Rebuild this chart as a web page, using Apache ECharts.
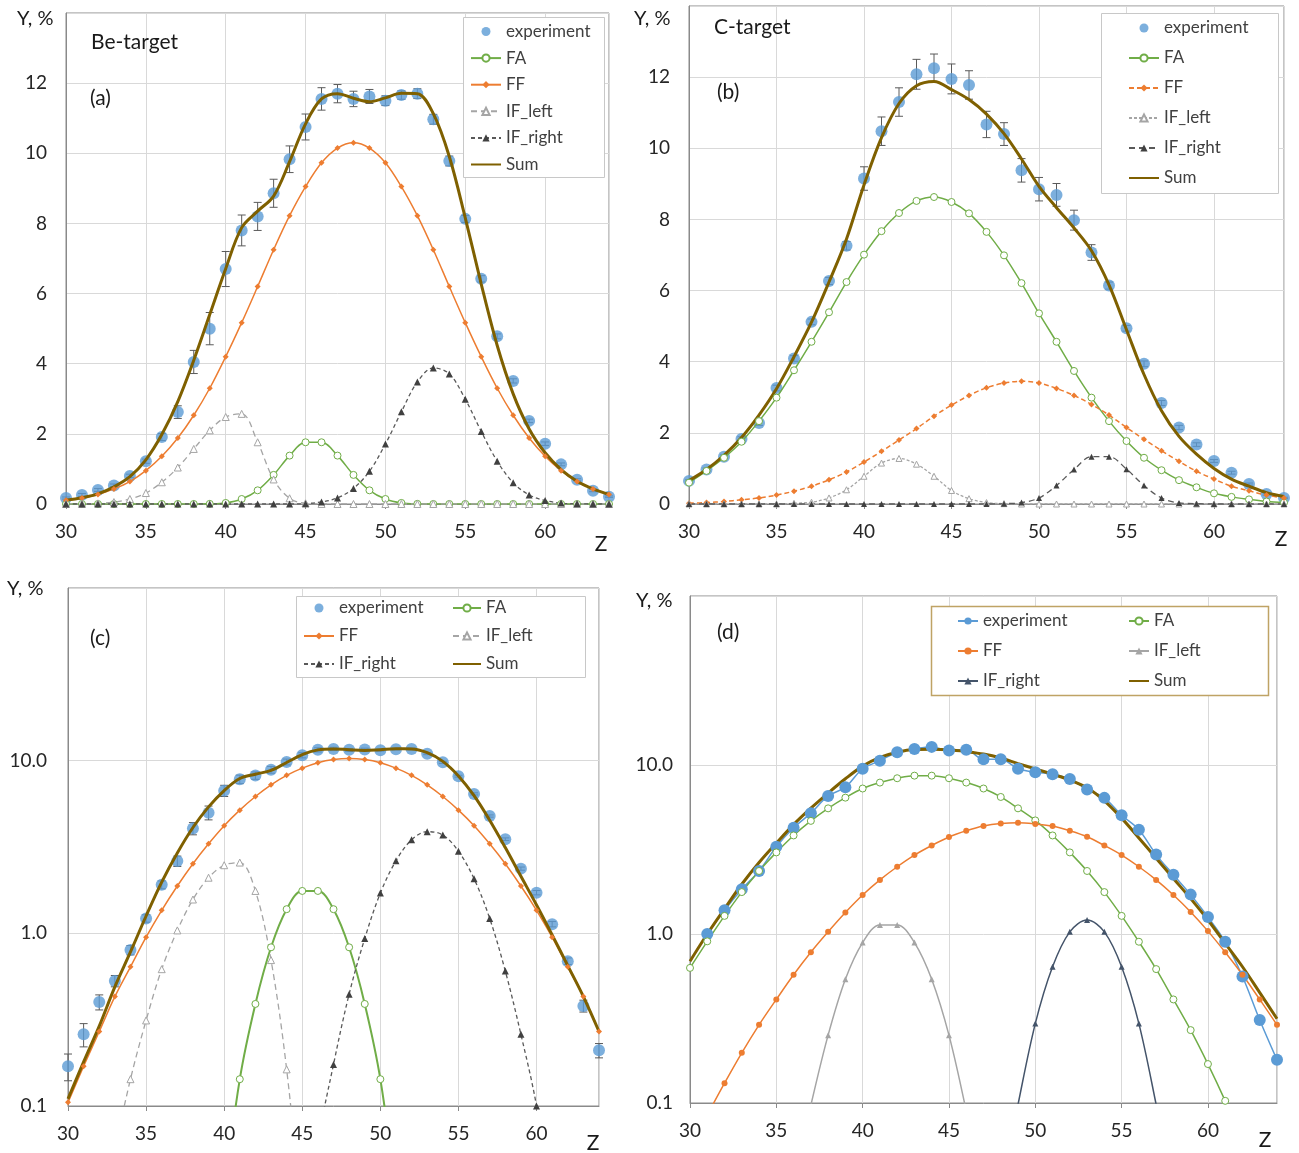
<!DOCTYPE html>
<html>
<head>
<meta charset="utf-8">
<script src="https://cdn.jsdelivr.net/npm/echarts@6/dist/echarts.min.js"></script>
<style>
  html, body { margin: 0; padding: 0; background: #fff; }
  #chart { width: 1299px; height: 1153px; }
</style>
</head>
<body>
<div id="chart"></div>
<script>
// Charge number Z of the fragments
const Z = [30, 31, 32, 33, 34, 35, 36, 37, 38, 39, 40, 41, 42, 43, 44, 45, 46, 47,
           48, 49, 50, 51, 52, 53, 54, 55, 56, 57, 58, 59, 60, 61, 62, 63, 64];

// ---- Be-target yields, % (panels a and c) ----
const beExp = [0.17, 0.26, 0.40, 0.53, 0.80, 1.22, 1.91, 2.62, 4.05, 5.0, 6.7, 7.8, 8.2, 8.86, 9.83, 10.75, 11.55, 11.7,
               11.55, 11.62, 11.5, 11.66, 11.7, 10.97, 9.78, 8.13, 6.42, 4.78, 3.51, 2.37, 1.72, 1.13, 0.69, 0.38, 0.21];
const beErr = [0.03, 0.04, 0.04, 0.04, 0.05, 0.06, 0.1, 0.18, 0.33, 0.46, 0.5, 0.44, 0.4, 0.4, 0.38, 0.37, 0.32, 0.26,
               0.22, 0.2, 0.14, 0.12, 0.14, 0.14, 0.14, 0.1, 0.09, 0.07, 0.06, 0.05, 0.05, 0.04, 0.03, 0.03, 0.02];
const beFA  = [0.0001, 0.0001, 0.0001, 0.0001, 0.0001, 0.0001, 0.0001, 0.0001, 0.0003, 0.004, 0.03, 0.143, 0.39, 0.83, 1.38, 1.76, 1.76, 1.38,
               0.83, 0.39, 0.143, 0.03, 0.004, 0.0003, 0.0001, 0.0001, 0.0001, 0.0001, 0.0001, 0.0001, 0.0001, 0.0001, 0.0001, 0.0001, 0.0001];
const beFF  = [0.105, 0.17, 0.27, 0.43, 0.64, 0.95, 1.36, 1.88, 2.53, 3.3, 4.2, 5.17, 6.2, 7.25, 8.22, 9.05, 9.73, 10.15,
               10.3, 10.15, 9.73, 9.05, 8.22, 7.25, 6.2, 5.17, 4.2, 3.3, 2.53, 1.88, 1.36, 0.95, 0.64, 0.43, 0.27];
const beIFL = [0.001, 0.005, 0.018, 0.055, 0.143, 0.313, 0.62, 1.04, 1.57, 2.1, 2.48, 2.57, 1.76, 0.70, 0.163, 0.02, 0.002, 0.0001,
               0.0001, 0.0001, 0.0001, 0.0001, 0.0001, 0.0001, 0.0001, 0.0001, 0.0001, 0.0001, 0.0001, 0.0001, 0.0001, 0.0001, 0.0001, 0.0001, 0.0001];
const beIFR = [0.0001, 0.0001, 0.0001, 0.0001, 0.0001, 0.0001, 0.0001, 0.0001, 0.0001, 0.0001, 0.0001, 0.0001, 0.0001, 0.0001, 0.0001, 0.01, 0.06, 0.174,
               0.444, 0.933, 1.71, 2.63, 3.48, 3.88, 3.71, 2.99, 2.07, 1.22, 0.605, 0.26, 0.1, 0.025, 0.005, 0.001, 0.0001];
const beSum = [0.11, 0.18, 0.29, 0.49, 0.78, 1.26, 1.98, 2.92, 4.1, 5.4, 6.71, 7.88, 8.35, 8.78, 9.76, 10.84, 11.55, 11.7,
               11.57, 11.47, 11.58, 11.71, 11.7, 11.13, 9.91, 8.16, 6.27, 4.52, 3.14, 2.14, 1.46, 0.98, 0.65, 0.43, 0.27];

// ---- C-target yields, % (panel b) ----
const cExp = [0.65, 0.97, 1.33, 1.83, 2.28, 3.26, 4.09, 5.12, 6.27, 7.26, 9.15, 10.48, 11.3, 12.08, 12.25, 11.95, 11.78, 10.67,
              10.4, 9.38, 8.85, 8.69, 7.98, 7.07, 6.14, 4.94, 3.94, 2.84, 2.15, 1.67, 1.21, 0.88, 0.56, 0.28, 0.17];
const cErr = [0.03, 0.04, 0.05, 0.06, 0.07, 0.08, 0.08, 0.08, 0.1, 0.12, 0.33, 0.4, 0.4, 0.42, 0.4, 0.42, 0.4, 0.37,
              0.32, 0.33, 0.33, 0.32, 0.28, 0.22, 0.1, 0.08, 0.08, 0.07, 0.06, 0.05, 0.04, 0.04, 0.03, 0.03, 0.02];
const cFA  = [0.6, 0.93, 1.3, 1.75, 2.33, 2.99, 3.76, 4.56, 5.39, 6.24, 7.01, 7.67, 8.18, 8.52, 8.63, 8.49, 8.17, 7.65,
              6.99, 6.21, 5.36, 4.56, 3.74, 2.99, 2.33, 1.77, 1.3, 0.95, 0.67, 0.47, 0.3, 0.2, 0.13, 0.07, 0.04];
const cFF  = [0.02, 0.04, 0.07, 0.12, 0.17, 0.25, 0.36, 0.5, 0.68, 0.9, 1.18, 1.48, 1.8, 2.12, 2.47, 2.78, 3.05, 3.27,
              3.4, 3.45, 3.4, 3.25, 3.05, 2.8, 2.5, 2.15, 1.82, 1.5, 1.2, 0.92, 0.7, 0.5, 0.37, 0.25, 0.17];
const cIFL = [0, 0, 0, 0, 0, 0, 0.02, 0.05, 0.17, 0.4, 0.78, 1.15, 1.28, 1.12, 0.78, 0.38, 0.15, 0.04,
              0.01, 0, 0, 0, 0, 0, 0, 0, 0, 0, 0, 0, 0, 0, 0, 0, 0];
const cIFR = [0, 0, 0, 0, 0, 0, 0, 0, 0, 0, 0, 0, 0, 0, 0, 0, 0, 0,
              0.01, 0.04, 0.17, 0.52, 0.97, 1.33, 1.33, 0.98, 0.52, 0.17, 0.03, 0.01, 0, 0, 0, 0, 0];
const cSum = [0.66, 0.97, 1.37, 1.87, 2.5, 3.24, 4.14, 5.11, 6.24, 7.45, 8.97, 10.3, 11.26, 11.76, 11.88, 11.65, 11.37, 10.96,
              10.41, 9.7, 8.93, 8.33, 7.76, 7.12, 6.16, 4.9, 3.64, 2.62, 1.9, 1.4, 1.0, 0.7, 0.5, 0.32, 0.21];

// ---- C-target yields, % (panel d, log scale) ----
const dExp = [null, 1.0, 1.38, 1.84, 2.36, 3.28, 4.25, 5.19, 6.56, 7.39, 9.5, 10.6, 11.9, 12.45, 12.8, 12.2, 12.3, 10.8,
              10.8, 9.5, 9.06, 8.83, 8.27, 7.16, 6.39, 5.04, 4.14, 2.95, 2.24, 1.71, 1.26, 0.9, 0.56, 0.31, 0.18];
const dFA  = [0.63, 0.905, 1.28, 1.77, 2.36, 3.04, 3.83, 4.67, 5.54, 6.41, 7.26, 7.87, 8.35, 8.65, 8.65, 8.35, 7.87, 7.26,
              6.47, 5.54, 4.7, 3.83, 3.04, 2.36, 1.77, 1.28, 0.9, 0.62, 0.41, 0.27, 0.17, 0.103, 0.06, 0.035, 0.02];
const dFF  = [0.055, 0.085, 0.131, 0.198, 0.29, 0.41, 0.574, 0.78, 1.03, 1.34, 1.7, 2.09, 2.5, 2.93, 3.34, 3.75, 4.08, 4.35,
              4.5, 4.55, 4.48, 4.35, 4.08, 3.76, 3.34, 2.93, 2.5, 2.09, 1.7, 1.35, 1.04, 0.78, 0.574, 0.41, 0.29];
const dIFL = [0.0001, 0.0002, 0.0005, 0.001, 0.004, 0.012, 0.035, 0.097, 0.252, 0.54, 0.89, 1.13, 1.13, 0.89, 0.54, 0.252, 0.09, 0.03,
              0.008, 0.002, 0.0005, 0.0005, 0.0005, 0.0005, 0.0005, 0.0005, 0.0005, 0.0005, 0.0005, 0.0005, 0.0005, 0.0005, 0.0005, 0.0005, 0.0005];
const dIFR = [0.0005, 0.0005, 0.0005, 0.0005, 0.0005, 0.0005, 0.0005, 0.0005, 0.0005, 0.0005, 0.0005, 0.0005, 0.0005, 0.0005, 0.0005, 0.0005, 0.003, 0.008,
              0.03, 0.098, 0.295, 0.64, 1.03, 1.21, 1.03, 0.64, 0.295, 0.098, 0.03, 0.008, 0.002, 0.0005, 0.0005, 0.0005, 0.0005];
const dSum = [0.69, 1.0, 1.41, 1.97, 2.65, 3.45, 4.44, 5.55, 6.82, 8.29, 9.85, 11.09, 11.9, 12.35, 12.4, 12.3, 12.0, 11.61,
              11.0, 10.19, 9.48, 8.82, 8.15, 7.33, 6.14, 4.85, 3.7, 2.81, 2.13, 1.62, 1.21, 0.88, 0.64, 0.45, 0.315];

// ---- styling ----
const FONT = 'Lato, "Open Sans", sans-serif';
const COL = {
  exp: '#5B9BD5', fa: '#70AD47', ff: '#ED7D31', ifl: '#A5A5A5', ifr: '#595959',
  ifrD: '#44546A', sum: '#7F6000', grid: '#D9D9D9', frame: '#8A8A8A', text: '#262626', legend: '#404040', err: '#5A5A5A'
};

const pairs = vals => Z.map((z, i) => [z, vals[i]]);

// panel plot areas (px)
const grids = [
  { left: 66,  top: 13,  width: 543, height: 491 },   // a
  { left: 689, top: 6,   width: 595, height: 498 },   // b
  { left: 68,  top: 588, width: 531, height: 518 },   // c
  { left: 690, top: 596, width: 587, height: 507 }    // d
].map(g => Object.assign({ show: true, borderColor: COL.frame, borderWidth: 1, backgroundColor: '#fff', outerBoundsMode: 'none', containLabel: false }, g));

function xAxisFor(g) {
  return {
    type: 'value', gridIndex: g, min: 30, max: 64, interval: 5,
    axisLine: { show: true, onZero: false, lineStyle: { color: COL.frame, width: 1 } },
    axisTick: { show: true, length: 5, lineStyle: { color: COL.frame } },
    axisLabel: { margin: 18, fontSize: 19, color: COL.text, fontFamily: FONT, showMaxLabel: false },
    splitLine: { show: true, lineStyle: { color: COL.grid, width: 1 } }
  };
}
function yLinear(g) {
  return {
    type: 'value', gridIndex: g, min: 0, max: 14, interval: 2,
    axisLine: { show: true, lineStyle: { color: COL.frame } },
    axisTick: { show: false },
    axisLabel: { margin: 19, fontSize: 19, color: COL.text, fontFamily: FONT, showMaxLabel: false },
    splitLine: { show: true, lineStyle: { color: COL.grid, width: 1 } }
  };
}
function yLog(g, margin) {
  return {
    type: 'log', logBase: 10, gridIndex: g, min: 0.1, max: 100,
    axisLine: { show: true, lineStyle: { color: COL.frame } },
    axisTick: { show: false },
    axisLabel: {
      margin: margin, fontSize: 19, color: COL.text, fontFamily: FONT, showMaxLabel: false,
      formatter: v => (v > 50 ? '' : Number(v).toFixed(1))
    },
    splitLine: { show: true, lineStyle: { color: COL.grid, width: 1 } }
  };
}

// vertical error bars with caps
function errBars(name, g, exp, err) {
  return {
    type: 'custom', name: name, xAxisIndex: g, yAxisIndex: g, silent: true,
    data: Z.map((z, i) => [z, exp[i] - err[i], exp[i] + err[i]]),
    encode: { x: 0, y: [1, 2] },
    renderItem: (params, api) => {
      const x = api.value(0);
      const p1 = api.coord([x, api.value(1)]);
      const p2 = api.coord([x, api.value(2)]);
      const w = 4;
      const st = { stroke: COL.err, lineWidth: 1 };
      return {
        type: 'group', children: [
          { type: 'line', shape: { x1: p1[0], y1: p1[1], x2: p2[0], y2: p2[1] }, style: st },
          { type: 'line', shape: { x1: p1[0] - w, y1: p1[1], x2: p1[0] + w, y2: p1[1] }, style: st },
          { type: 'line', shape: { x1: p2[0] - w, y1: p2[1], x2: p2[0] + w, y2: p2[1] }, style: st }
        ]
      };
    }
  };
}

function curve(name, g, vals, o) {
  return {
    type: 'line', name: name, xAxisIndex: g, yAxisIndex: g, data: pairs(vals),
    smooth: 0.35, clip: true,
    symbol: o.symbol || 'none', symbolSize: o.size || 6, showSymbol: !!o.symbol,
    itemStyle: o.hollow
      ? { color: '#fff', borderColor: o.color, borderWidth: 1 }
      : { color: o.mcolor || o.color, borderWidth: 0 },
    lineStyle: { color: o.color, width: o.width || 1.5, type: o.dash || 'solid' },
    emphasis: { disabled: true }
  };
}
function dots(name, g, vals) {
  return {
    type: 'scatter', name: name, xAxisIndex: g, yAxisIndex: g, data: pairs(vals),
    symbol: 'circle', symbolSize: 12, itemStyle: { color: COL.exp }, clip: true,
    emphasis: { disabled: true }
  };
}

// series for the Be-target panels (linear a, log c)
function beSeries(p, g, faWidth) {
  return [
    curve(p + '|FA', g, beFA, { color: COL.fa, symbol: 'circle', size: 7, hollow: true, width: faWidth }),
    curve(p + '|FF', g, beFF, { color: COL.ff, symbol: 'diamond', size: 6 }),
    curve(p + '|IF_left', g, beIFL, { color: COL.ifl, symbol: 'triangle', size: 7, hollow: true, dash: [6, 4], width: 1.3 }),
    curve(p + '|IF_right', g, beIFR, { color: COL.ifr, mcolor: '#404040', symbol: 'triangle', size: 7, dash: [4, 3], width: 1.3 }),
    curve(p + '|Sum', g, beSum, { color: COL.sum, width: 3 }),
    errBars(p + '|err', g, beExp, beErr),
    dots(p + '|experiment', g, beExp)
  ];
}

const series = [].concat(
  beSeries('a', 0, 1.5),
  [
    curve('b|FA', 1, cFA, { color: COL.fa, symbol: 'circle', size: 7, hollow: true }),
    curve('b|FF', 1, cFF, { color: COL.ff, symbol: 'diamond', size: 6, dash: [5, 3] }),
    curve('b|IF_left', 1, cIFL, { color: COL.ifl, symbol: 'triangle', size: 6, hollow: true, dash: [3, 2], width: 1.3 }),
    curve('b|IF_right', 1, cIFR, { color: COL.ifr, mcolor: '#404040', symbol: 'triangle', size: 6, dash: [6, 4], width: 1.3 }),
    curve('b|Sum', 1, cSum, { color: COL.sum, width: 3 }),
    errBars('b|err', 1, cExp, cErr),
    dots('b|experiment', 1, cExp)
  ],
  beSeries('c', 2, 2),
  [
    curve('d|experiment', 3, dExp, { color: COL.exp, symbol: 'circle', size: 12, width: 1.5 }),
    curve('d|FA', 3, dFA, { color: COL.fa, symbol: 'circle', size: 7, hollow: true }),
    curve('d|FF', 3, dFF, { color: COL.ff, symbol: 'circle', size: 6 }),
    curve('d|IF_left', 3, dIFL, { color: COL.ifl, symbol: 'triangle', size: 6 }),
    curve('d|IF_right', 3, dIFR, { color: COL.ifrD, symbol: 'triangle', size: 6 }),
    curve('d|Sum', 3, dSum, { color: COL.sum, width: 3 })
  ]
);

// legend entries; the Sum entry shows only its line
const entry = n => (n.endsWith('|Sum') ? { name: n, itemStyle: { opacity: 0 } } : { name: n });

function legend(names, left, top, gap, itemWidth) {
  return {
    data: names.map(entry), orient: 'vertical', left: left, top: top, padding: 0,
    itemGap: gap, itemWidth: itemWidth, itemHeight: 9, itemTextGap: 3,
    selectedMode: false, backgroundColor: 'transparent', borderWidth: 0,
    textStyle: { fontSize: 17, color: COL.legend, fontFamily: FONT, lineHeight: 17 },
    formatter: n => n.split('|')[1]
  };
}
const L6 = ['experiment', 'FA', 'FF', 'IF_left', 'IF_right', 'Sum'];
const legends = [
  legend(L6.map(n => 'a|' + n), 470, 23, 9.6, 30),
  legend(L6.map(n => 'b|' + n), 1128, 19.5, 13, 30),
  legend(['c|experiment', 'c|FF', 'c|IF_right'], 303, 599.5, 11, 30),
  legend(['c|FA', 'c|IF_left', 'c|Sum'], 452, 599.5, 11, 28),
  legend(['d|experiment', 'd|FF', 'd|IF_right'], 957, 612.5, 13, 20),
  legend(['d|FA', 'd|IF_left', 'd|Sum'], 1128, 612.5, 13, 20)
];

function txt(text, x, y, size, align) {
  return {
    type: 'text', x: x, y: y, z: 10,
    style: { text: text, fill: '#1a1a1a', fontSize: size, fontFamily: FONT,
             textAlign: align || 'left', align: align || 'left', textVerticalAlign: 'middle', verticalAlign: 'middle' }
  };
}
function box(x, y, w, h, stroke, lw) {
  return { type: 'rect', z: 3, shape: { x: x, y: y, width: w, height: h },
           style: { fill: '#fff', stroke: stroke, lineWidth: lw || 1 } };
}

const graphic = [
  box(463.5, 17.5, 141, 160, '#C8C8C8'),
  box(1101.5, 13.5, 177, 180, '#C8C8C8'),
  box(296.5, 596.5, 289, 81, '#C8C8C8'),
  box(931.5, 606.5, 337, 89, '#BFA365', 1.5),
  txt('Y, %', 17, 19, 20), txt('Y, %', 634, 19, 20), txt('Y, %', 7, 589, 20), txt('Y, %', 636, 601, 20),
  txt('Z', 601, 544, 21, 'center'), txt('Z', 1281, 539, 21, 'center'),
  txt('Z', 593, 1143, 21, 'center'), txt('Z', 1265, 1140, 21, 'center'),
  txt('Be-target', 91, 42, 21), txt('(a)', 90, 98, 21),
  txt('C-target', 714, 27, 21), txt('(b)', 717, 92, 21),
  txt('(c)', 90, 638, 21), txt('(d)', 717, 632, 21)
];

const chart = echarts.init(document.getElementById('chart'), null, { renderer: 'canvas' });
chart.setOption({
  animation: false,
  backgroundColor: '#fff',
  textStyle: { fontFamily: FONT },
  grid: grids,
  xAxis: [0, 1, 2, 3].map(xAxisFor),
  yAxis: [yLinear(0), yLinear(1), yLog(2, 21), yLog(3, 17)],
  legend: legends,
  graphic: graphic,
  series: series
});
</script>
</body>
</html>
